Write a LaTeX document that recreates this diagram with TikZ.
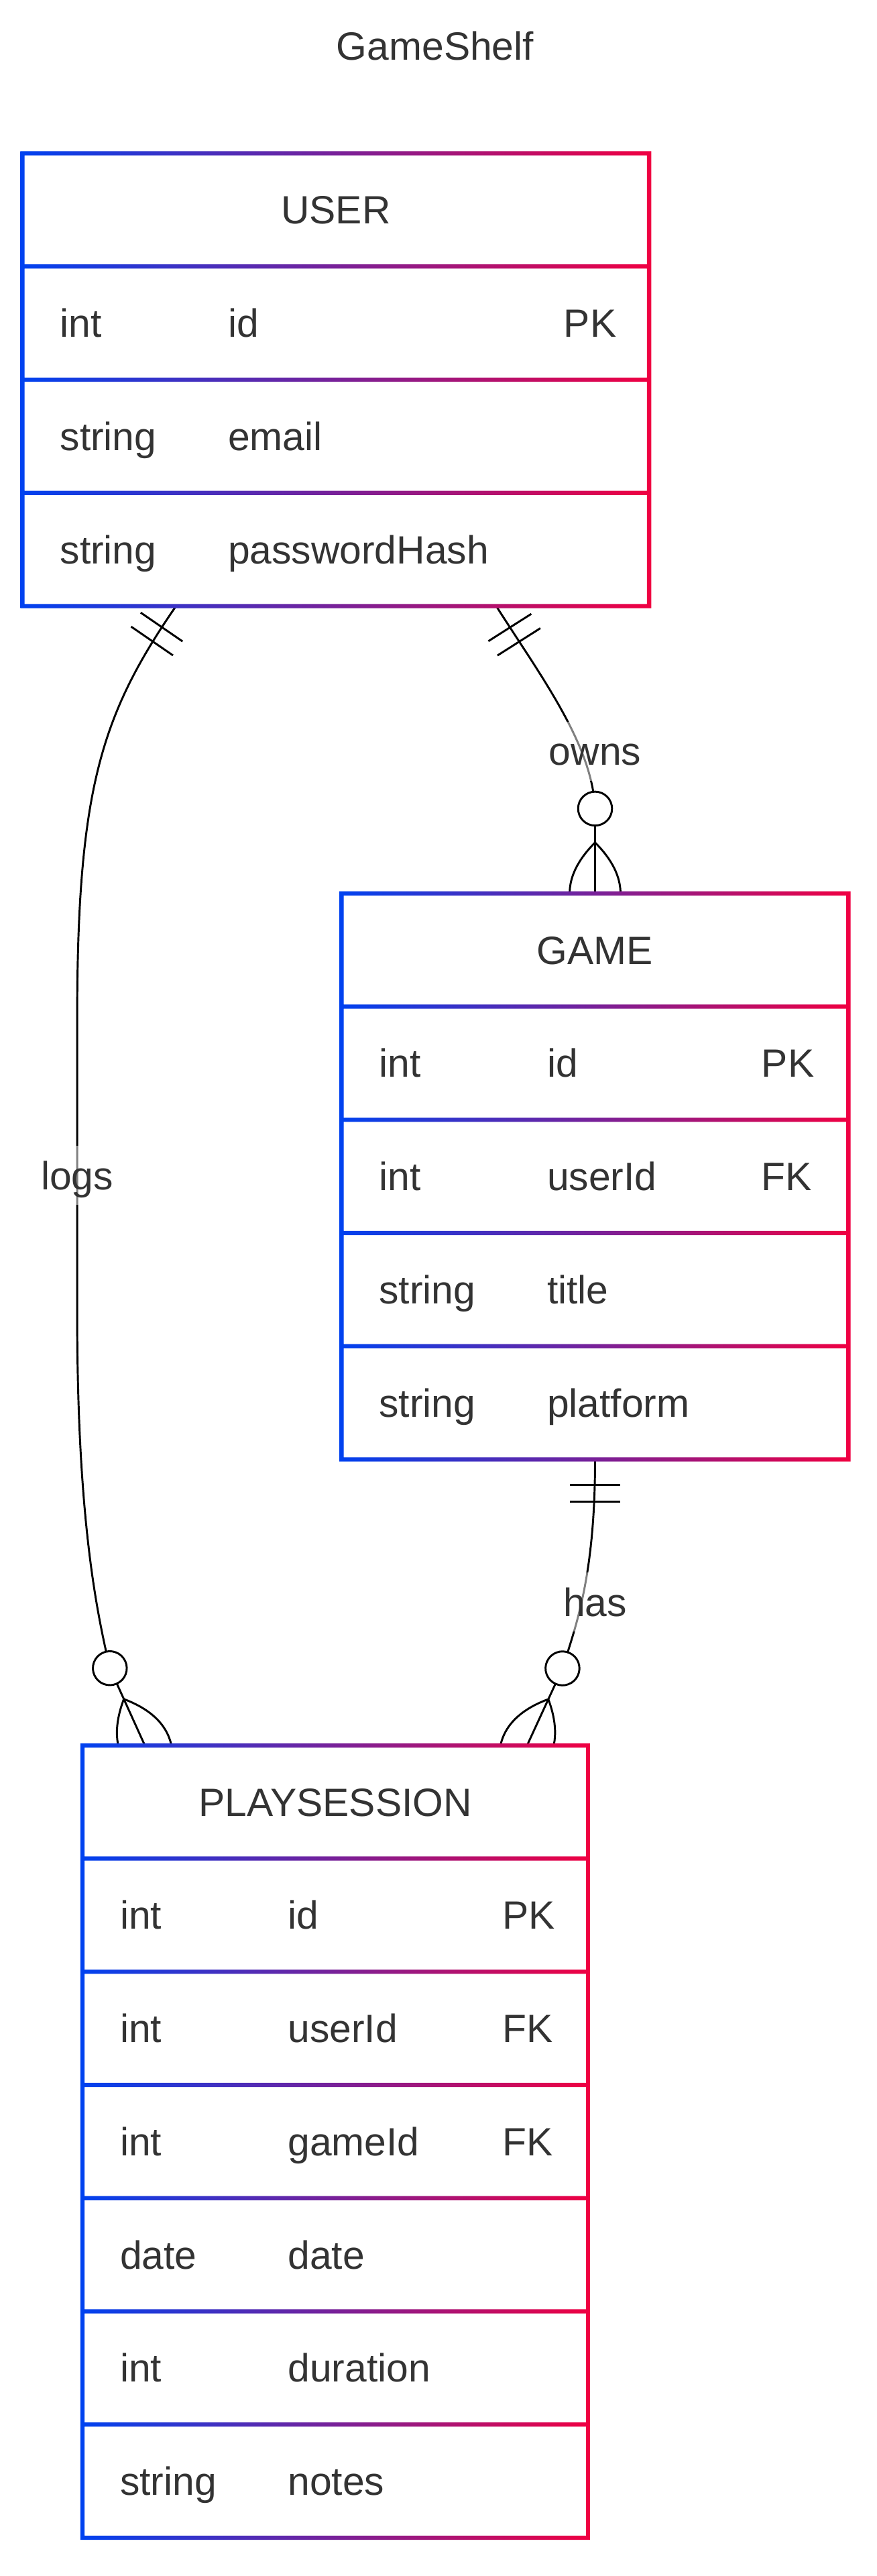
\documentclass[tikz,border=0pt]{standalone}
\usepackage{fontspec}
\setmainfont{Liberation Sans}
\usetikzlibrary{calc}
\definecolor{erblue}{RGB}{0,66,240}
\definecolor{erred}{RGB}{240,0,66}
\definecolor{ertext}{RGB}{51,51,51}
\tikzset{
  every node/.style={text=ertext,font=\fontsize{24}{29}\selectfont},
  field/.style={anchor=west,inner sep=0pt,text height=17.2pt,text depth=0pt},
  heading/.style={inner sep=0pt,text height=17.2pt,text depth=0pt},
  rel/.style={line width=1.2pt},
  lbl/.style={fill=white,fill opacity=.5,text opacity=1,inner sep=3pt,
    text height=17.2pt,text depth=0pt,minimum height=36pt},
  bars/.pic={\draw[rel] (9,-9) -- (9,9) (15,-9) -- (15,9);},
  crowfoot/.pic={
    \draw[rel] (-18,0) .. controls (-6,12) and (6,12) .. (18,0)
      (-18,0) .. controls (-6,-12) and (6,-12) .. (18,0);
    \draw[rel,fill=white] (-30,0) circle (6);}
}

\begin{document}
\begin{tikzpicture}[x=1pt,y=1pt]
    \useasboundingbox (0,0) rectangle (534,-1568);
    \node[heading] (title) at (265,-28) {GameShelf};
    \coordinate (u_1) at (107.2,-368.9);
    \coordinate (u_2) at (302.2,-368.9);
    \coordinate (g_1) at (362.4,-543.8);
    \coordinate (g_2) at (362.4,-888.3);
    \coordinate (p_1) at (88.2,-1062.4);
    \coordinate (p_2) at (321,-1062.4);
    \draw[rel] (u_1) .. controls (61.8,-434.9) and (47,-480) .. (47,-620) -- (47,-800)
      .. controls (47,-930) and (60,-985) .. (66.9,-1015.4) -- (p_1);
    \draw[rel] (u_2) .. controls (329,-411.2) and (362.4,-455) .. (362.4,-495) -- (g_1);
    \draw[rel] (g_2) .. controls (362.4,-960) and (350.5,-990) .. (342.6,-1015.5) -- (p_2);
    \node[lbl] (logs) at (47,-715.5) {logs};
    \node[lbl] (owns) at (362.4,-457.3) {owns};
    \node[lbl] (has) at (362.4,-975.2) {has};
    \path (u_1) pic[rotate=-124.5,scale=1.72]{bars};
    \path (u_2) pic[rotate=-57.6,scale=1.72]{bars};
    \path (g_2) pic[rotate=-90,scale=1.72]{bars};
    \path (p_1) pic[rotate=-65.6,scale=1.72]{crowfoot};
    \path (g_1) pic[rotate=-90,scale=1.72]{crowfoot};
    \path (p_2) pic[rotate=-114.7,scale=1.72]{crowfoot};
    \foreach \n/\h/\x/\y/\w/\k in {user/USER/13.7/-93.3/381.6/4,
        game/GAME/208/-543.8/308.7/5, session/PLAYSESSION/50.2/-1062.4/308/7}{
      \fill[white] (\x,\y) rectangle (\x+\w,\y-\k*68.9);
      \shade[left color=erblue,right color=erred,even odd rule]
        (\x-1.3,\y+1.3) rectangle (\x+\w+1.3,\y-\k*68.9-1.3)
        \foreach \i in {1,...,\k}{(\x+1.3,\y-\i*68.9+67.6) rectangle (\x+\w-1.3,\y-\i*68.9+1.3)};
      \coordinate (\n_nw) at (\x,\y);
      \node[heading] (\n) at (\x+\w/2,\y-34.45) {\h};
    }
    \foreach \i/\t/\a/\c in {1/int/id/PK, 2/string/email/, 3/string/passwordHash/}{
      \node[field] (user_t\i) at ($(user_nw)+(22.7,-34.45-68.9*\i)$) {\t};
      \node[field] (user_a\i) at ($(user_nw)+(125,-34.45-68.9*\i)$) {\a};
      \node[field] (user_k\i) at ($(user_nw)+(329.5,-34.45-68.9*\i)$) {\c};
    }
    \foreach \i/\t/\a/\c in {1/int/id/PK, 2/int/userId/FK, 3/string/title/, 4/string/platform/}{
      \node[field] (game_t\i) at ($(game_nw)+(22.7,-34.45-68.9*\i)$) {\t};
      \node[field] (game_a\i) at ($(game_nw)+(125,-34.45-68.9*\i)$) {\a};
      \node[field] (game_k\i) at ($(game_nw)+(255.6,-34.45-68.9*\i)$) {\c};
    }
    \foreach \i/\t/\a/\c in {1/int/id/PK, 2/int/userId/FK, 3/int/gameId/FK,
        4/date/date/, 5/int/duration/, 6/string/notes/}{
      \node[field] (session_t\i) at ($(session_nw)+(22.7,-34.45-68.9*\i)$) {\t};
      \node[field] (session_a\i) at ($(session_nw)+(125,-34.45-68.9*\i)$) {\a};
      \node[field] (session_k\i) at ($(session_nw)+(255.6,-34.45-68.9*\i)$) {\c};
    }
\end{tikzpicture}
\end{document}
